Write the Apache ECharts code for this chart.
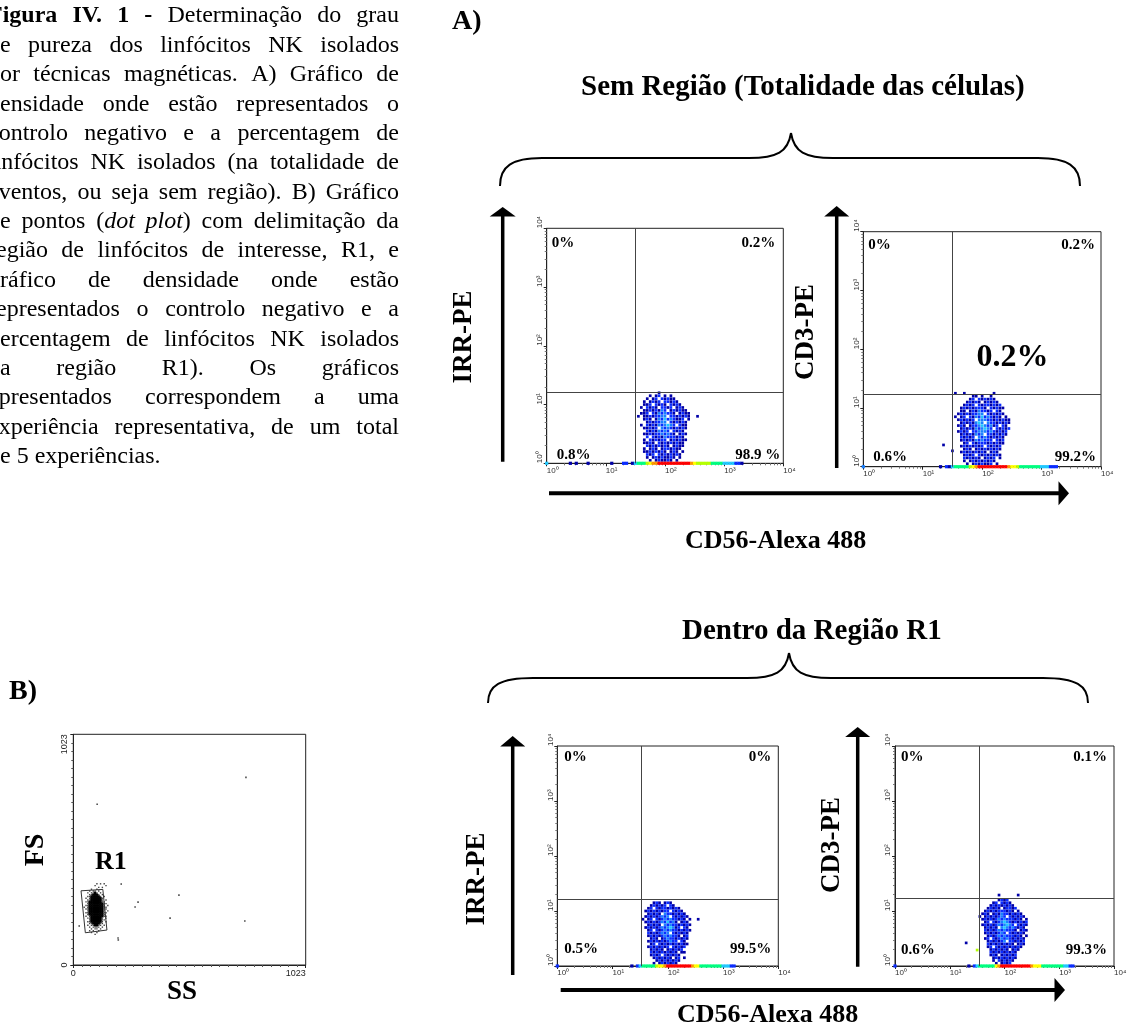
<!DOCTYPE html>
<html><head><meta charset="utf-8">
<script src="https://cdn.jsdelivr.net/npm/echarts@6/dist/echarts.min.js"></script>
<style>html,body{margin:0;padding:0;background:#fff}#c{width:1128px;height:1028px}</style>
</head><body><div id="c"></div>
<script>
// ================= DATA =================
const tickLabels = ['10\u2070', '10\u00b9', '10\u00b2', '10\u00b3', '10\u2074'];
const dotTickLabels = ['0', '1023'];

// quadrant gates (fluorescence units) for the four density plots
const gateX = [32, 32, 33, 34];
const gateY = [16, 16.8, 16.6, 17.4];

// quadrant percentages: upper-left, upper-right, lower-left, lower-right
const quadA1 = ['0%', '0.2%', '0.8%', '98.9 %'];
const quadA2 = ['0%', '0.2%', '0.6%', '99.2%'];
const quadB1 = ['0%', '0%', '0.5%', '99.5%'];
const quadB2 = ['0%', '0.1%', '0.6%', '99.3%'];
const bigLabelA2 = '0.2%';

// density clouds: binned in log10 units, bin 0.05 decade,
// columns start at 10^1.55, rows start (top) at 10^1.20; digit = density level
const CLOUD_X0 = 1.55, CLOUD_Y0 = 1.20, BIN = 0.05;
const cloudA1 = [
  "000000010000000000000",
  "000010120101000000000",
  "000101202121100000000",
  "001012120221210000000",
  "001120212102121000000",
  "010212102212012100000",
  "001121213201212110000",
  "011202132322101211000",
  "101121223302212121001",
  "001210132423211201000",
  "000121223302121210000",
  "010212132343202110000",
  "001121203232121210000",
  "000212132320212100000",
  "001121223232101210000",
  "000202121322212100000",
  "001021212201212110000",
  "001121021212121100000",
  "000212121210121100000",
  "001012101221211000000",
  "001121212101210100000",
  "000212021212121000000",
  "000101212112101000000",
  "000010121121010000000"
];
const cloudA2 = [
  "000000110100100000000",
  "000001202121210000000",
  "000012121012121000000",
  "000121202122121200000",
  "001212122210212110000",
  "001101213221202100000",
  "012121223302121210000",
  "101202132423212101000",
  "012121203332212121100",
  "001212134303221212100",
  "012101223432312021000",
  "001212132343202121200",
  "012120223332321212000",
  "001212132302212121000",
  "002121203232121210000",
  "001212132322202120000",
  "000120212221212110000",
  "001212121202121200000",
  "000121012121212100000",
  "001212121210121000000",
  "000121202121212100000",
  "000212121012120100000",
  "000101212121210000000",
  "000010121211201000000"
];
const cloudB1 = [
  "000000000000000000000",
  "000012101210000000000",
  "000121212021000000000",
  "001202122121210000000",
  "012121212202121000000",
  "001212103221212100000",
  "012121232302121210000",
  "101202123232212101001",
  "012121232423101210000",
  "001212103232212121000",
  "012121232343120210000",
  "001202123232212121000",
  "002121232302121210000",
  "001212123232210120000",
  "000121012322121210000",
  "001212121232202100000",
  "000120212121212110000",
  "001212121202121200000",
  "000121210121212000000",
  "000212121212101100000",
  "000121202121210000000",
  "000012121210120100000",
  "000001212121210000000",
  "000010121212100000000"
];
const cloudB2 = [
  "000000012120000000000",
  "000001202121000000000",
  "000012121212100000000",
  "000121210122120000000",
  "001212122212101000000",
  "012101213221212100000",
  "101212123202121210000",
  "012121232322212101000",
  "001202123432121212000",
  "012121232343202121000",
  "001212103432321210000",
  "002121232322210121000",
  "001212123202121210000",
  "000121232322212101000",
  "001202123232121210000",
  "000121212302212120000",
  "000212121212101210000",
  "000120212121212100000",
  "000012121210121000000",
  "000021212121210000000",
  "000012101212120000000",
  "000001212121210000000",
  "000001021212100000000",
  "000000101212000000000"
];
// isolated events: [log10 x, log10 y, level]
const extraA1 = [];
const extraA2 = [[1.35, 0.37, 1], [1.50, 0.27, 1], [1.55, 1.25, 1], [1.70, 1.25, 1], [2.20, 1.25, 1]];
const extraB1 = [];
const extraB2 = [[1.30, 0.42, 1], [1.50, 0.29, 6], [1.90, 1.29, 1], [2.25, 1.29, 1]];

// events piled on the y = 10^0 floor: [from log10 x, to log10 x, level]
const stripA1 = [[0,0,4],[0.4,0.4,1],[0.5,0.5,1],[0.7,0.7,1],[1.1,1.1,1],[1.3,1.35,2],[1.45,1.45,1],[1.5,1.5,4],[1.55,1.65,5],[1.7,1.7,6],[1.75,1.75,7],[1.8,1.85,8],[1.9,2.4,9],[2.45,2.45,8],[2.5,2.5,7],[2.55,2.75,6],[2.8,2.95,5],[3.0,3.15,4],[3.2,3.25,2],[3.3,3.3,1]];
const stripA2 = [[0,0,3],[1.3,1.3,1],[1.4,1.4,2],[1.45,1.45,1],[1.5,1.5,4],[1.55,1.75,5],[1.8,1.8,6],[1.85,1.85,7],[1.9,1.9,8],[1.95,2.4,9],[2.45,2.45,8],[2.5,2.55,7],[2.6,2.6,6],[2.65,2.95,5],[3.0,3.1,4],[3.15,3.25,2]];
const stripB1 = [[0,0,2],[1.35,1.35,1],[1.45,1.45,2],[1.5,1.5,4],[1.55,1.75,5],[1.8,1.8,6],[1.85,1.9,7],[1.95,1.95,8],[2.0,2.4,9],[2.45,2.45,8],[2.5,2.55,7],[2.6,2.95,5],[3.0,3.1,4],[3.15,3.2,2]];
const stripB2 = [[0,0,2],[1.35,1.35,1],[1.45,1.45,2],[1.5,1.5,4],[1.55,1.8,5],[1.85,1.85,7],[1.9,1.9,8],[1.95,2.45,9],[2.5,2.5,8],[2.55,2.65,7],[2.7,3.05,5],[3.1,3.15,4],[3.2,3.25,2]];

// FS/SS dot plot: binned core (bin 8 units, columns from SS=40, rows from FS=360 downward)
const DOT_X0 = 40, DOT_Y0 = 360, DOT_BIN = 8;
const dotCore = [
  "00000000101010000",
  "00000001000001000",
  "00000000010100000",
  "00000100100000000",
  "00001011010000000",
  "00010112101000000",
  "00001122210100000",
  "00011222221010000",
  "00101222222100000",
  "00011222222101000",
  "00112222222110000",
  "00012222222211000",
  "00112222222210100",
  "01012222222211000",
  "00112222222211000",
  "00012222222210100",
  "00112222222211000",
  "00012222222210000",
  "00101222222211000",
  "00011222222101000",
  "00001222222110000",
  "00011222222101000",
  "00001122221100000",
  "00010112211010000",
  "00001011110100000",
  "00000101101000000",
  "00001010010000000",
  "00000100100000000",
  "00000001000000000"
];
const dotOutliers = [[105,713],[760,832],[465,310],[426,208],[755,195],[272,257],[285,279],[197,120],[26,173],[211,359],[198,111]];
const gateR1 = [[34,329],[130,335],[148,155],[53,143],[34,329]];

// texts
const captionLines = [
  '*Figura *IV. *1 *- Determinação do grau',
  'de pureza dos linfócitos NK isolados',
  'por técnicas magnéticas. A) Gráfico de',
  'densidade onde estão representados o',
  'controlo negativo e a percentagem de',
  'linfócitos NK isolados (na totalidade de',
  'eventos, ou seja sem região). B) Gráfico',
  'de pontos (_dot_ _plot_) com delimitação da',
  'região de linfócitos de interesse, R1, e',
  'gráfico de densidade onde estão',
  'representados o controlo negativo e a',
  'percentagem de linfócitos NK isolados',
  'na região R1). Os gráficos',
  'apresentados correspondem a uma',
  'experiência representativa, de um total',
  'de 5 experiências.'
];
const titleA = 'Sem Região (Totalidade das células)';
const titleB = 'Dentro da Região R1';
const xName = 'CD56-Alexa 488';
const yNames = ['IRR-PE', 'CD3-PE', 'IRR-PE', 'CD3-PE'];

// ================= LAYOUT =================
const palette = [null, '#0000a8', '#0a2cff', '#1a80ff', '#20c8ff', '#00ff80', '#b4ff00', '#ffff00', '#ff9600', '#ff0000'];
const panels = [
  {l:546.7, t:228.3, r:783.3, b:463.3, ins:[5,15, 8,15, 10,8, 3,8]},
  {l:863.3, t:231.7, r:1101, b:466.7, ins:[5,13, 6,13, 10,10, 5,10]},
  {l:557.3, t:746, r:778.3, b:966, ins:[7,11, 7,11, 7,17, 7,17]},
  {l:895, t:746, r:1114, b:966, ins:[6,11.5, 7,11.5, 6,16, 7,16]}
];
const dotPanel = {l:73.3, t:734.3, r:305.7, b:965};
const clouds = [cloudA1, cloudA2, cloudB1, cloudB2];
const extras = [extraA1, extraA2, extraB1, extraB2];
const strips = [stripA1, stripA2, stripB1, stripB2];
const quads = [quadA1, quadA2, quadB1, quadB2];

function cloudPoints(rows, ex) {
  const pts = [];
  rows.forEach((row, r) => {
    for (let c = 0; c < row.length; c++) {
      const lv = +row[c];
      if (lv > 0) pts.push([Math.pow(10, CLOUD_X0 + BIN * c), Math.pow(10, CLOUD_Y0 - BIN * r), lv]);
    }
  });
  ex.forEach(e => pts.push([Math.pow(10, e[0]), Math.pow(10, e[1]), e[2]]));
  return pts;
}
function stripPoints(runs) {
  const pts = [];
  runs.forEach(([a, b, lv]) => {
    for (let k = Math.round(a / BIN); k <= Math.round(b / BIN); k++) pts.push([Math.pow(10, k * BIN), 1, lv]);
  });
  return pts;
}
function dotPoints(rows) {
  const pts = [];
  rows.forEach((row, r) => {
    for (let c = 0; c < row.length; c++) {
      const lv = +row[c];
      if (lv > 0) pts.push([DOT_X0 + DOT_BIN * c, DOT_Y0 - DOT_BIN * r, lv]);
    }
  });
  return pts;
}

const grids = [], xAxes = [], yAxes = [], series = [];
const gridBase = {show:true, borderColor:'#222', borderWidth:1, backgroundColor:'transparent', containLabel:false, outerBoundsMode:'none'};
panels.forEach((p, i) => {
  grids.push(Object.assign({left:p.l, top:p.t, width:p.r - p.l, height:p.b - p.t}, gridBase));
  const common = {
    type:'log', logBase:10, min:1, max:10000, gridIndex:i,
    axisLine:{show:true, onZero:false, lineStyle:{color:'#222', width:1}},
    axisTick:{show:true, length:3, lineStyle:{color:'#222'}},
    minorTick:{show:true, splitNumber:9, length:2, lineStyle:{color:'#777'}},
    splitLine:{show:false}, minorSplitLine:{show:false}
  };
  const fmt = v => tickLabels[Math.round(Math.log10(v))];
  xAxes.push(Object.assign({}, common, {axisLabel:{formatter:fmt, fontSize:8, color:'#333', margin:3, align:'left', fontFamily:'Liberation Sans'}}));
  yAxes.push(Object.assign({}, common, {axisLabel:{formatter:fmt, fontSize:8, color:'#333', margin:3, rotate:90, align:'left', verticalAlign:'bottom', fontFamily:'Liberation Sans'}}));
  series.push({
    type:'scatter', xAxisIndex:i, yAxisIndex:i, symbol:'rect', symbolSize:2.7, clip:false, silent:true,
    data: cloudPoints(clouds[i], extras[i]),
    itemStyle:{color: q => palette[q.value[2]], opacity:1},
    markLine:{silent:true, symbol:'none', animation:false, label:{show:false},
      lineStyle:{type:'solid', width:1, color:'#444'},
      data:[{xAxis:gateX[i]}, {yAxis:gateY[i]}]}
  });
  series.push({
    type:'scatter', xAxisIndex:i, yAxisIndex:i, symbol:'rect', symbolSize:3.2, clip:false, silent:true, z:3,
    data: stripPoints(strips[i]),
    itemStyle:{color: q => palette[q.value[2]], opacity:1}
  });
});
// dot plot
grids.push(Object.assign({left:dotPanel.l, top:dotPanel.t, width:dotPanel.r - dotPanel.l, height:dotPanel.b - dotPanel.t}, gridBase));
const dotAxis = {
  type:'value', min:0, max:1023, interval:1023, gridIndex:4,
  axisLine:{show:true, onZero:false, lineStyle:{color:'#222', width:1}},
  axisTick:{show:true, length:3, lineStyle:{color:'#222'}},
  minorTick:{show:true, splitNumber:27, length:2, lineStyle:{color:'#555'}},
  splitLine:{show:false}, minorSplitLine:{show:false}
};
const dfmt = v => (v === 0 ? dotTickLabels[0] : dotTickLabels[1]);
xAxes.push(Object.assign({}, dotAxis, {axisLabel:{formatter:dfmt, fontSize:9, color:'#222', margin:4, alignMaxLabel:'right', fontFamily:'Liberation Sans'}}));
yAxes.push(Object.assign({}, dotAxis, {axisLabel:{formatter:dfmt, fontSize:9, color:'#222', margin:4, rotate:90, alignMaxLabel:'right', fontFamily:'Liberation Sans'}}));
series.push({
  type:'scatter', xAxisIndex:4, yAxisIndex:4, symbol:'rect', silent:true,
  symbolSize: v => (v[2] === 2 ? 2.4 : 1.4),
  data: dotPoints(dotCore),
  itemStyle:{color: q => (q.value[2] === 2 ? '#000' : '#444'), opacity:1}
});
series.push({
  type:'scatter', xAxisIndex:4, yAxisIndex:4, symbol:'rect', symbolSize:1.6, silent:true,
  data: dotOutliers, itemStyle:{color:'#222'}
});
series.push({
  type:'line', xAxisIndex:4, yAxisIndex:4, symbol:'none', silent:true,
  data: gateR1, lineStyle:{color:'#333', width:1}
});

// ================= GRAPHICS =================
const g = [];
const SERIF = '"Liberation Serif", "Times New Roman", serif';
function txt(t, x, y, font, align, rot) {
  const el = {type:'text', x:x, y:y, z:100, silent:true,
    style:{text:t, font:font, fill:'#000', align:align || 'left', verticalAlign:'middle', textAlign:align || 'left', textVerticalAlign:'middle'}};
  if (rot) el.rotation = rot;
  return el;
}
// caption paragraph (justified)
const ctx = document.createElement('canvas').getContext('2d');
const PX0 = -12, PX1 = 399, PY0 = 16.2, PDY = 29.37, PFS = 24;
captionLines.forEach((line, i) => {
  const words = line.split(' ').map(w => {
    let bold = false;
    if (w[0] === '*') { bold = true; w = w.slice(1); }
    const segs = w.split('_').map((t, k) => ({t:t, it:k % 2 === 1, bold:bold})).filter(s => s.t.length);
    segs.forEach(s => { s.font = (s.it ? 'italic ' : '') + (s.bold ? 'bold ' : '') + PFS + 'px ' + SERIF; ctx.font = s.font; s.w = ctx.measureText(s.t).width; });
    return {segs:segs, w:segs.reduce((a, s) => a + s.w, 0)};
  });
  const total = words.reduce((a, w) => a + w.w, 0);
  ctx.font = PFS + 'px ' + SERIF;
  const sp = ctx.measureText(' ').width;
  const last = i === captionLines.length - 1;
  const gap = last ? sp : (PX1 - PX0 - total) / (words.length - 1);
  let x = PX0; const y = PY0 + PDY * i;
  words.forEach(w => { w.segs.forEach(s => { g.push(txt(s.t, x, y, s.font)); x += s.w; }); x += gap; });
});

// section letters and titles
g.push(txt('A)', 452, 22, 'bold 28px ' + SERIF));
g.push(txt('B)', 9, 692, 'bold 28px ' + SERIF));
g.push(txt(titleA, 581, 88, 'bold 29px ' + SERIF));
g.push(txt(titleB, 682, 632, 'bold 29px ' + SERIF));
// braces built from bezier curves and straight runs
const braceStyle = {fill:null, stroke:'#000', lineWidth:2};
function bez(x1, y1, cx1, cy1, cx2, cy2, x2, y2) {
  g.push({type:'bezierCurve', z:100, silent:true, shape:{x1:x1, y1:y1, cpx1:cx1, cpy1:cy1, cpx2:cx2, cpy2:cy2, x2:x2, y2:y2}, style:braceStyle});
}
function seg(x1, y1, x2, y2, lw) {
  g.push({type:'line', z:100, silent:true, shape:{x1:x1, y1:y1, x2:x2, y2:y2}, style:{stroke:'#000', lineWidth:lw || 2}});
}
function brace(xl, xr, yEnd, yMid, xPeak, yPeak, c1, c2) {
  bez(xl, yEnd, xl, yMid + (yEnd - yMid) * 0.3, xl + 12, yMid, xl + c1, yMid);
  seg(xl + c1, yMid, xPeak - c2, yMid);
  bez(xPeak - c2, yMid, xPeak - 14, yMid, xPeak - 3, yMid - 6, xPeak, yPeak);
  bez(xPeak, yPeak, xPeak + 3, yMid - 6, xPeak + 14, yMid, xPeak + c2, yMid);
  seg(xPeak + c2, yMid, xr - c1, yMid);
  bez(xr - c1, yMid, xr - 12, yMid, xr, yMid + (yEnd - yMid) * 0.3, xr, yEnd);
}
brace(500, 1080, 186, 158, 791, 133, 42, 42);
brace(488, 1088, 703, 678, 789, 653, 45, 42);
// arrows
function vArrow(x, yb, tip, hl, hw, lw) {
  g.push({type:'line', z:100, silent:true, shape:{x1:x, y1:yb, x2:x, y2:tip + hl}, style:{stroke:'#000', lineWidth:lw}});
  g.push({type:'polygon', z:100, silent:true, shape:{points:[[x - hw, tip + hl + 0.5], [x + hw, tip + hl + 0.5], [x, tip]]}, style:{fill:'#000'}});
}
function hArrow(y, xl, tip, hl, hw, lw) {
  g.push({type:'line', z:100, silent:true, shape:{x1:xl, y1:y, x2:tip - hl, y2:y}, style:{stroke:'#000', lineWidth:lw}});
  g.push({type:'polygon', z:100, silent:true, shape:{points:[[tip - hl - 0.5, y - hw], [tip - hl - 0.5, y + hw], [tip, y]]}, style:{fill:'#000'}});
}
vArrow(502.7, 461.7, 207, 9, 13, 3.5);
vArrow(836.7, 468, 206, 10, 12.5, 3.5);
hArrow(493.3, 549, 1069, 10, 12, 4);
vArrow(512.7, 975, 736, 10, 12.5, 3.5);
vArrow(857.7, 966.7, 727, 9.5, 12.5, 3.5);
hArrow(990, 560.7, 1065, 10, 12, 4);
// axis names
g.push(txt(xName, 685, 541, 'bold 26px ' + SERIF));
g.push(txt(xName, 677, 1015, 'bold 26px ' + SERIF));
const yNamePos = [[464, 337], [806, 332], [477, 879], [832, 845]];
yNames.forEach((n, i) => g.push(txt(n, yNamePos[i][0], yNamePos[i][1], 'bold 27px ' + SERIF, 'center', Math.PI / 2)));
// quadrant labels
panels.forEach((p, i) => {
  const f = 'bold 15px ' + SERIF, q = quads[i], s = p.ins;
  g.push(txt(q[0], p.l + s[0], p.t + s[1], f, 'left'));
  g.push(txt(q[1], p.r - s[2], p.t + s[3], f, 'right'));
  g.push(txt(q[2], p.l + s[4], p.b - s[5], f, 'left'));
  g.push(txt(q[3], p.r - s[6], p.b - s[7], f, 'right'));
});
g.push(txt(bigLabelA2, 1012.5, 357.5, 'bold 32px ' + SERIF, 'center'));
// dot plot labels
g.push(txt('R1', 95, 862, 'bold 26px ' + SERIF));
g.push(txt('FS', 36, 850, 'bold 28px ' + SERIF, 'center', Math.PI / 2));
g.push(txt('SS', 182, 992, 'bold 27px ' + SERIF, 'center'));

const chart = echarts.init(document.getElementById('c'), null, {renderer:'canvas'});
chart.setOption({
  animation:false,
  backgroundColor:'#fff',
  textStyle:{fontFamily:'Liberation Sans'},
  grid:grids, xAxis:xAxes, yAxis:yAxes, series:series, graphic:g
});
</script></body></html>
